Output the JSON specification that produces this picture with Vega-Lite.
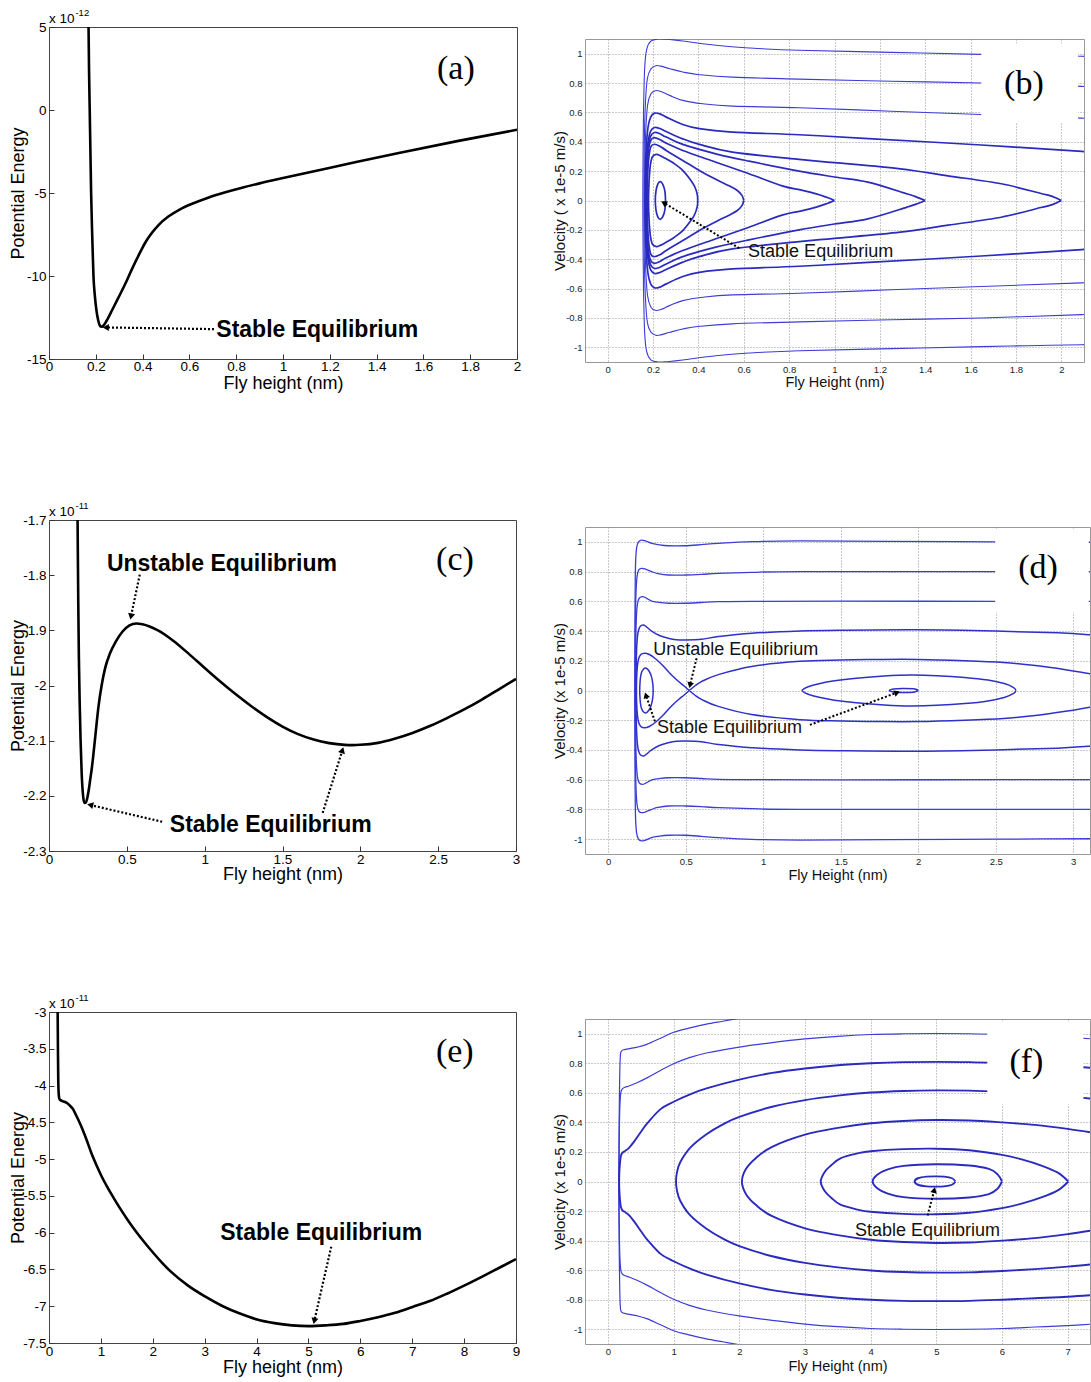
{
"$schema":"https://vega.github.io/schema/vega-lite/v6.json",
"background":"white",
"padding":{"left":8,"top":7,"right":0,"bottom":0},
"config":{"font":"Liberation Sans","view":{"stroke":null},"axis":{"titleFontWeight":"normal"}},
"datasets":{
"a":[{"x":0.166,"y":6},{"x":0.169,"y":5},{"x":0.171,"y":2.5},{"x":0.174,"y":0},{"x":0.177,"y":-2.5},{"x":0.18,"y":-5},{"x":0.185,"y":-7.7},{"x":0.19,"y":-10},{"x":0.196,"y":-11.2},{"x":0.203,"y":-12.1},{"x":0.21,"y":-12.65},{"x":0.216,"y":-12.95},{"x":0.223,"y":-13.06},{"x":0.23,"y":-13.02},{"x":0.24,"y":-12.85},{"x":0.252,"y":-12.55},{"x":0.27,"y":-12.05},{"x":0.295,"y":-11.35},{"x":0.325,"y":-10.5},{"x":0.354,"y":-9.6},{"x":0.385,"y":-8.7},{"x":0.413,"y":-7.95},{"x":0.44,"y":-7.4},{"x":0.47,"y":-6.9},{"x":0.51,"y":-6.42},{"x":0.56,"y":-5.98},{"x":0.62,"y":-5.6},{"x":0.68,"y":-5.28},{"x":0.75,"y":-4.97},{"x":0.825,"y":-4.68},{"x":0.9,"y":-4.42},{"x":1,"y":-4.1},{"x":1.25,"y":-3.33},{"x":1.5,"y":-2.57},{"x":1.75,"y":-1.86},{"x":2,"y":-1.19}],
"c":[{"x":0.183,"y":-1.68},{"x":0.185,"y":-1.75},{"x":0.188,"y":-1.85},{"x":0.192,"y":-1.95},{"x":0.197,"y":-2.03},{"x":0.203,"y":-2.1},{"x":0.21,"y":-2.16},{"x":0.219,"y":-2.2},{"x":0.228,"y":-2.213},{"x":0.237,"y":-2.212},{"x":0.246,"y":-2.204},{"x":0.255,"y":-2.19},{"x":0.265,"y":-2.17},{"x":0.275,"y":-2.15},{"x":0.284,"y":-2.128},{"x":0.3,"y":-2.085},{"x":0.317,"y":-2.04},{"x":0.338,"y":-2.0},{"x":0.361,"y":-1.968},{"x":0.39,"y":-1.943},{"x":0.428,"y":-1.921},{"x":0.47,"y":-1.903},{"x":0.517,"y":-1.891},{"x":0.56,"y":-1.8875},{"x":0.6,"y":-1.8889},{"x":0.7,"y":-1.9001},{"x":0.8,"y":-1.9193},{"x":0.9,"y":-1.9431},{"x":1,"y":-1.9682},{"x":1.1,"y":-1.9928},{"x":1.2,"y":-2.016},{"x":1.3,"y":-2.0376},{"x":1.4,"y":-2.0574},{"x":1.5,"y":-2.0745},{"x":1.6,"y":-2.0881},{"x":1.7,"y":-2.098},{"x":1.8,"y":-2.1044},{"x":1.9,"y":-2.1076},{"x":1.95,"y":-2.108},{"x":2,"y":-2.1075},{"x":2.113,"y":-2.104},{"x":2.22,"y":-2.0965},{"x":2.335,"y":-2.086},{"x":2.45,"y":-2.073},{"x":2.557,"y":-2.059},{"x":2.67,"y":-2.043},{"x":2.778,"y":-2.026},{"x":2.89,"y":-2.007},{"x":3,"y":-1.988}],
"e":[{"x":0.165,"y":-2.9},{"x":0.167,"y":-3},{"x":0.172,"y":-3.5},{"x":0.178,"y":-3.9},{"x":0.186,"y":-4.1},{"x":0.196,"y":-4.17},{"x":0.215,"y":-4.195},{"x":0.253,"y":-4.21},{"x":0.3,"y":-4.22},{"x":0.353,"y":-4.24},{"x":0.4,"y":-4.27},{"x":0.452,"y":-4.31},{"x":0.52,"y":-4.4},{"x":0.619,"y":-4.55},{"x":0.72,"y":-4.73},{"x":0.818,"y":-4.92},{"x":0.92,"y":-5.09},{"x":1.018,"y":-5.24},{"x":1.18,"y":-5.45},{"x":1.351,"y":-5.65},{"x":1.52,"y":-5.83},{"x":1.683,"y":-5.99},{"x":1.85,"y":-6.14},{"x":2.016,"y":-6.28},{"x":2.18,"y":-6.41},{"x":2.349,"y":-6.53},{"x":2.68,"y":-6.72},{"x":3.014,"y":-6.87},{"x":3.35,"y":-7},{"x":3.679,"y":-7.1},{"x":4.01,"y":-7.18},{"x":4.345,"y":-7.23},{"x":4.68,"y":-7.26},{"x":5.01,"y":-7.27},{"x":5.34,"y":-7.26},{"x":5.675,"y":-7.24},{"x":6,"y":-7.2},{"x":6.34,"y":-7.15},{"x":6.67,"y":-7.09},{"x":7.006,"y":-7.01},{"x":7.34,"y":-6.93},{"x":7.67,"y":-6.83},{"x":8,"y":-6.72},{"x":8.34,"y":-6.6},{"x":8.67,"y":-6.48},{"x":9,"y":-6.36}],
"b":[
{"c":"b1","x":2.2,"y":0.98},{"c":"b1","x":2.09,"y":0.982},{"c":"b1","x":1.85,"y":0.989},{"c":"b1","x":1.647,"y":0.995},{"c":"b1","x":1.25,"y":1.009},{"c":"b1","x":0.844,"y":1.023},{"c":"b1","x":0.623,"y":1.039},{"c":"b1","x":0.477,"y":1.057},{"c":"b1","x":0.331,"y":1.086},{"c":"b1","x":0.26,"y":1.098},{"c":"b1","x":0.222,"y":1.1},{"c":"b1","x":0.19,"y":1.085},{"c":"b1","x":0.172,"y":1.03},{"c":"b1","x":0.163,"y":0.9},{"c":"b1","x":0.158,"y":0.6},{"c":"b1","x":0.156,"y":0.3},{"c":"b1","x":0.155,"y":0},{"c":"b1","x":0.156,"y":-0.3},{"c":"b1","x":0.158,"y":-0.6},{"c":"b1","x":0.163,"y":-0.9},{"c":"b1","x":0.172,"y":-1.03},{"c":"b1","x":0.19,"y":-1.085},{"c":"b1","x":0.222,"y":-1.1},{"c":"b1","x":0.26,"y":-1.098},{"c":"b1","x":0.331,"y":-1.086},{"c":"b1","x":0.477,"y":-1.057},{"c":"b1","x":0.623,"y":-1.039},{"c":"b1","x":0.844,"y":-1.023},{"c":"b1","x":1.25,"y":-1.009},{"c":"b1","x":1.647,"y":-0.995},{"c":"b1","x":1.85,"y":-0.989},{"c":"b1","x":2.09,"y":-0.982},{"c":"b1","x":2.2,"y":-0.98},
{"c":"b2","x":2.2,"y":0.773},{"c":"b2","x":2.09,"y":0.777},{"c":"b2","x":1.647,"y":0.8},{"c":"b2","x":1.25,"y":0.812},{"c":"b2","x":0.844,"y":0.827},{"c":"b2","x":0.55,"y":0.84},{"c":"b2","x":0.404,"y":0.857},{"c":"b2","x":0.331,"y":0.875},{"c":"b2","x":0.273,"y":0.898},{"c":"b2","x":0.235,"y":0.915},{"c":"b2","x":0.212,"y":0.918},{"c":"b2","x":0.19,"y":0.895},{"c":"b2","x":0.175,"y":0.83},{"c":"b2","x":0.166,"y":0.65},{"c":"b2","x":0.161,"y":0.35},{"c":"b2","x":0.16,"y":0},{"c":"b2","x":0.161,"y":-0.35},{"c":"b2","x":0.166,"y":-0.65},{"c":"b2","x":0.175,"y":-0.83},{"c":"b2","x":0.19,"y":-0.895},{"c":"b2","x":0.212,"y":-0.918},{"c":"b2","x":0.235,"y":-0.915},{"c":"b2","x":0.273,"y":-0.898},{"c":"b2","x":0.331,"y":-0.875},{"c":"b2","x":0.404,"y":-0.857},{"c":"b2","x":0.55,"y":-0.84},{"c":"b2","x":0.844,"y":-0.827},{"c":"b2","x":1.25,"y":-0.812},{"c":"b2","x":1.647,"y":-0.8},{"c":"b2","x":2.09,"y":-0.777},{"c":"b2","x":2.2,"y":-0.773},
{"c":"b3","x":2.2,"y":0.556},{"c":"b3","x":2.09,"y":0.561},{"c":"b3","x":1.647,"y":0.586},{"c":"b3","x":1.25,"y":0.608},{"c":"b3","x":0.844,"y":0.632},{"c":"b3","x":0.55,"y":0.643},{"c":"b3","x":0.419,"y":0.659},{"c":"b3","x":0.331,"y":0.682},{"c":"b3","x":0.273,"y":0.716},{"c":"b3","x":0.235,"y":0.742},{"c":"b3","x":0.21,"y":0.748},{"c":"b3","x":0.19,"y":0.725},{"c":"b3","x":0.176,"y":0.65},{"c":"b3","x":0.168,"y":0.48},{"c":"b3","x":0.164,"y":0.25},{"c":"b3","x":0.163,"y":0},{"c":"b3","x":0.164,"y":-0.25},{"c":"b3","x":0.168,"y":-0.48},{"c":"b3","x":0.176,"y":-0.65},{"c":"b3","x":0.19,"y":-0.725},{"c":"b3","x":0.21,"y":-0.748},{"c":"b3","x":0.235,"y":-0.742},{"c":"b3","x":0.273,"y":-0.716},{"c":"b3","x":0.331,"y":-0.682},{"c":"b3","x":0.419,"y":-0.659},{"c":"b3","x":0.55,"y":-0.643},{"c":"b3","x":0.844,"y":-0.632},{"c":"b3","x":1.25,"y":-0.608},{"c":"b3","x":1.647,"y":-0.586},{"c":"b3","x":2.09,"y":-0.561},{"c":"b3","x":2.2,"y":-0.556},
{"c":"b4","x":2.2,"y":0.322},{"c":"b4","x":2.09,"y":0.334},{"c":"b4","x":1.647,"y":0.378},{"c":"b4","x":1.15,"y":0.422},{"c":"b4","x":0.844,"y":0.448},{"c":"b4","x":0.55,"y":0.466},{"c":"b4","x":0.404,"y":0.489},{"c":"b4","x":0.331,"y":0.518},{"c":"b4","x":0.258,"y":0.568},{"c":"b4","x":0.23,"y":0.59},{"c":"b4","x":0.207,"y":0.595},{"c":"b4","x":0.19,"y":0.57},{"c":"b4","x":0.178,"y":0.5},{"c":"b4","x":0.17,"y":0.36},{"c":"b4","x":0.166,"y":0.18},{"c":"b4","x":0.165,"y":0},{"c":"b4","x":0.166,"y":-0.18},{"c":"b4","x":0.17,"y":-0.36},{"c":"b4","x":0.178,"y":-0.5},{"c":"b4","x":0.19,"y":-0.57},{"c":"b4","x":0.207,"y":-0.595},{"c":"b4","x":0.23,"y":-0.59},{"c":"b4","x":0.258,"y":-0.568},{"c":"b4","x":0.331,"y":-0.518},{"c":"b4","x":0.404,"y":-0.489},{"c":"b4","x":0.55,"y":-0.466},{"c":"b4","x":0.844,"y":-0.448},{"c":"b4","x":1.15,"y":-0.422},{"c":"b4","x":1.647,"y":-0.378},{"c":"b4","x":2.09,"y":-0.334},{"c":"b4","x":2.2,"y":-0.322},
{"c":"b5","x":2,"y":0},{"c":"b5","x":1.96,"y":0.028},{"c":"b5","x":1.91,"y":0.048},{"c":"b5","x":1.735,"y":0.114},{"c":"b5","x":1.5,"y":0.168},{"c":"b5","x":1.29,"y":0.216},{"c":"b5","x":1,"y":0.258},{"c":"b5","x":0.844,"y":0.28},{"c":"b5","x":0.55,"y":0.33},{"c":"b5","x":0.404,"y":0.382},{"c":"b5","x":0.331,"y":0.42},{"c":"b5","x":0.258,"y":0.47},{"c":"b5","x":0.23,"y":0.49},{"c":"b5","x":0.207,"y":0.497},{"c":"b5","x":0.19,"y":0.475},{"c":"b5","x":0.179,"y":0.41},{"c":"b5","x":0.172,"y":0.3},{"c":"b5","x":0.168,"y":0.15},{"c":"b5","x":0.167,"y":0},{"c":"b5","x":0.168,"y":-0.15},{"c":"b5","x":0.172,"y":-0.3},{"c":"b5","x":0.179,"y":-0.41},{"c":"b5","x":0.19,"y":-0.475},{"c":"b5","x":0.207,"y":-0.497},{"c":"b5","x":0.23,"y":-0.49},{"c":"b5","x":0.258,"y":-0.47},{"c":"b5","x":0.331,"y":-0.42},{"c":"b5","x":0.404,"y":-0.382},{"c":"b5","x":0.55,"y":-0.33},{"c":"b5","x":0.844,"y":-0.28},{"c":"b5","x":1,"y":-0.258},{"c":"b5","x":1.29,"y":-0.216},{"c":"b5","x":1.5,"y":-0.168},{"c":"b5","x":1.735,"y":-0.114},{"c":"b5","x":1.91,"y":-0.048},{"c":"b5","x":1.96,"y":-0.028},{"c":"b5","x":2,"y":0},
{"c":"b6","x":1.4,"y":0},{"c":"b6","x":1.36,"y":0.025},{"c":"b6","x":1.32,"y":0.045},{"c":"b6","x":1.147,"y":0.125},{"c":"b6","x":1,"y":0.16},{"c":"b6","x":0.844,"y":0.2},{"c":"b6","x":0.623,"y":0.268},{"c":"b6","x":0.477,"y":0.318},{"c":"b6","x":0.331,"y":0.382},{"c":"b6","x":0.258,"y":0.432},{"c":"b6","x":0.23,"y":0.455},{"c":"b6","x":0.207,"y":0.463},{"c":"b6","x":0.19,"y":0.44},{"c":"b6","x":0.18,"y":0.38},{"c":"b6","x":0.173,"y":0.27},{"c":"b6","x":0.17,"y":0.13},{"c":"b6","x":0.169,"y":0},{"c":"b6","x":0.17,"y":-0.13},{"c":"b6","x":0.173,"y":-0.27},{"c":"b6","x":0.18,"y":-0.38},{"c":"b6","x":0.19,"y":-0.44},{"c":"b6","x":0.207,"y":-0.463},{"c":"b6","x":0.23,"y":-0.455},{"c":"b6","x":0.258,"y":-0.432},{"c":"b6","x":0.331,"y":-0.382},{"c":"b6","x":0.477,"y":-0.318},{"c":"b6","x":0.623,"y":-0.268},{"c":"b6","x":0.844,"y":-0.2},{"c":"b6","x":1,"y":-0.16},{"c":"b6","x":1.147,"y":-0.125},{"c":"b6","x":1.32,"y":-0.045},{"c":"b6","x":1.36,"y":-0.025},{"c":"b6","x":1.4,"y":0},
{"c":"b7","x":1,"y":0},{"c":"b7","x":0.965,"y":0.022},{"c":"b7","x":0.92,"y":0.045},{"c":"b7","x":0.85,"y":0.072},{"c":"b7","x":0.769,"y":0.1},{"c":"b7","x":0.623,"y":0.182},{"c":"b7","x":0.477,"y":0.261},{"c":"b7","x":0.331,"y":0.341},{"c":"b7","x":0.258,"y":0.39},{"c":"b7","x":0.23,"y":0.415},{"c":"b7","x":0.205,"y":0.428},{"c":"b7","x":0.19,"y":0.41},{"c":"b7","x":0.18,"y":0.35},{"c":"b7","x":0.175,"y":0.25},{"c":"b7","x":0.172,"y":0.12},{"c":"b7","x":0.171,"y":0},{"c":"b7","x":0.172,"y":-0.12},{"c":"b7","x":0.175,"y":-0.25},{"c":"b7","x":0.18,"y":-0.35},{"c":"b7","x":0.19,"y":-0.41},{"c":"b7","x":0.205,"y":-0.428},{"c":"b7","x":0.23,"y":-0.415},{"c":"b7","x":0.258,"y":-0.39},{"c":"b7","x":0.331,"y":-0.341},{"c":"b7","x":0.477,"y":-0.261},{"c":"b7","x":0.623,"y":-0.182},{"c":"b7","x":0.769,"y":-0.1},{"c":"b7","x":0.85,"y":-0.072},{"c":"b7","x":0.92,"y":-0.045},{"c":"b7","x":0.965,"y":-0.022},{"c":"b7","x":1,"y":0},
{"c":"b8","x":0.6,"y":0},{"c":"b8","x":0.592,"y":0.035},{"c":"b8","x":0.57,"y":0.07},{"c":"b8","x":0.535,"y":0.1},{"c":"b8","x":0.47,"y":0.15},{"c":"b8","x":0.404,"y":0.205},{"c":"b8","x":0.331,"y":0.273},{"c":"b8","x":0.258,"y":0.341},{"c":"b8","x":0.23,"y":0.37},{"c":"b8","x":0.205,"y":0.383},{"c":"b8","x":0.19,"y":0.365},{"c":"b8","x":0.182,"y":0.3},{"c":"b8","x":0.177,"y":0.2},{"c":"b8","x":0.175,"y":0.1},{"c":"b8","x":0.174,"y":0},{"c":"b8","x":0.175,"y":-0.1},{"c":"b8","x":0.177,"y":-0.2},{"c":"b8","x":0.182,"y":-0.3},{"c":"b8","x":0.19,"y":-0.365},{"c":"b8","x":0.205,"y":-0.383},{"c":"b8","x":0.23,"y":-0.37},{"c":"b8","x":0.258,"y":-0.341},{"c":"b8","x":0.331,"y":-0.273},{"c":"b8","x":0.404,"y":-0.205},{"c":"b8","x":0.47,"y":-0.15},{"c":"b8","x":0.535,"y":-0.1},{"c":"b8","x":0.57,"y":-0.07},{"c":"b8","x":0.592,"y":-0.035},{"c":"b8","x":0.6,"y":0},
{"c":"b9","x":0.397,"y":0},{"c":"b9","x":0.395,"y":0.04},{"c":"b9","x":0.385,"y":0.09},{"c":"b9","x":0.37,"y":0.13},{"c":"b9","x":0.331,"y":0.205},{"c":"b9","x":0.29,"y":0.255},{"c":"b9","x":0.258,"y":0.284},{"c":"b9","x":0.23,"y":0.307},{"c":"b9","x":0.215,"y":0.314},{"c":"b9","x":0.198,"y":0.3},{"c":"b9","x":0.189,"y":0.25},{"c":"b9","x":0.184,"y":0.17},{"c":"b9","x":0.181,"y":0.08},{"c":"b9","x":0.18,"y":0},{"c":"b9","x":0.181,"y":-0.08},{"c":"b9","x":0.184,"y":-0.17},{"c":"b9","x":0.189,"y":-0.25},{"c":"b9","x":0.198,"y":-0.3},{"c":"b9","x":0.215,"y":-0.314},{"c":"b9","x":0.23,"y":-0.307},{"c":"b9","x":0.258,"y":-0.284},{"c":"b9","x":0.29,"y":-0.255},{"c":"b9","x":0.331,"y":-0.205},{"c":"b9","x":0.37,"y":-0.13},{"c":"b9","x":0.385,"y":-0.09},{"c":"b9","x":0.395,"y":-0.04},{"c":"b9","x":0.397,"y":0},
{"c":"b10","x":0.255,"y":0},{"c":"b10","x":0.252,"y":0.065},{"c":"b10","x":0.243,"y":0.11},{"c":"b10","x":0.232,"y":0.128},{"c":"b10","x":0.221,"y":0.112},{"c":"b10","x":0.213,"y":0.065},{"c":"b10","x":0.21,"y":0},{"c":"b10","x":0.213,"y":-0.065},{"c":"b10","x":0.221,"y":-0.112},{"c":"b10","x":0.232,"y":-0.128},{"c":"b10","x":0.243,"y":-0.11},{"c":"b10","x":0.252,"y":-0.065},{"c":"b10","x":0.255,"y":0}
],
"d":[
{"c":"d1","x":3.2,"y":0.997},{"c":"d1","x":2.5,"y":1},{"c":"d1","x":1.8,"y":1.003},{"c":"d1","x":1.237,"y":1.006},{"c":"d1","x":0.925,"y":1.001},{"c":"d1","x":0.71,"y":0.99},{"c":"d1","x":0.6,"y":0.981},{"c":"d1","x":0.495,"y":0.974},{"c":"d1","x":0.387,"y":0.974},{"c":"d1","x":0.32,"y":0.982},{"c":"d1","x":0.28,"y":0.99},{"c":"d1","x":0.24,"y":1.006},{"c":"d1","x":0.215,"y":1.012},{"c":"d1","x":0.195,"y":1},{"c":"d1","x":0.183,"y":0.96},{"c":"d1","x":0.176,"y":0.85},{"c":"d1","x":0.173,"y":0.6},{"c":"d1","x":0.172,"y":0.3},{"c":"d1","x":0.171,"y":0},{"c":"d1","x":0.172,"y":-0.3},{"c":"d1","x":0.173,"y":-0.6},{"c":"d1","x":0.176,"y":-0.85},{"c":"d1","x":0.183,"y":-0.96},{"c":"d1","x":0.195,"y":-1},{"c":"d1","x":0.215,"y":-1.012},{"c":"d1","x":0.24,"y":-1.006},{"c":"d1","x":0.28,"y":-0.99},{"c":"d1","x":0.32,"y":-0.982},{"c":"d1","x":0.387,"y":-0.974},{"c":"d1","x":0.495,"y":-0.974},{"c":"d1","x":0.6,"y":-0.981},{"c":"d1","x":0.71,"y":-0.99},{"c":"d1","x":0.925,"y":-1.001},{"c":"d1","x":1.237,"y":-1.006},{"c":"d1","x":1.8,"y":-1.003},{"c":"d1","x":2.5,"y":-1},{"c":"d1","x":3.2,"y":-0.997},
{"c":"d2","x":3.2,"y":0.8},{"c":"d2","x":2.5,"y":0.8},{"c":"d2","x":1.237,"y":0.8},{"c":"d2","x":0.925,"y":0.795},{"c":"d2","x":0.71,"y":0.788},{"c":"d2","x":0.6,"y":0.781},{"c":"d2","x":0.495,"y":0.777},{"c":"d2","x":0.387,"y":0.777},{"c":"d2","x":0.32,"y":0.787},{"c":"d2","x":0.28,"y":0.8},{"c":"d2","x":0.24,"y":0.817},{"c":"d2","x":0.215,"y":0.822},{"c":"d2","x":0.196,"y":0.81},{"c":"d2","x":0.185,"y":0.76},{"c":"d2","x":0.178,"y":0.62},{"c":"d2","x":0.175,"y":0.4},{"c":"d2","x":0.174,"y":0.2},{"c":"d2","x":0.173,"y":0},{"c":"d2","x":0.174,"y":-0.2},{"c":"d2","x":0.175,"y":-0.4},{"c":"d2","x":0.178,"y":-0.62},{"c":"d2","x":0.185,"y":-0.76},{"c":"d2","x":0.196,"y":-0.81},{"c":"d2","x":0.215,"y":-0.822},{"c":"d2","x":0.24,"y":-0.817},{"c":"d2","x":0.28,"y":-0.8},{"c":"d2","x":0.32,"y":-0.787},{"c":"d2","x":0.387,"y":-0.777},{"c":"d2","x":0.495,"y":-0.777},{"c":"d2","x":0.6,"y":-0.781},{"c":"d2","x":0.71,"y":-0.788},{"c":"d2","x":0.925,"y":-0.795},{"c":"d2","x":1.237,"y":-0.8},{"c":"d2","x":2.5,"y":-0.8},{"c":"d2","x":3.2,"y":-0.8},
{"c":"d3","x":3.2,"y":0.6},{"c":"d3","x":2.5,"y":0.6},{"c":"d3","x":1.5,"y":0.601},{"c":"d3","x":0.925,"y":0.6},{"c":"d3","x":0.71,"y":0.598},{"c":"d3","x":0.6,"y":0.592},{"c":"d3","x":0.495,"y":0.587},{"c":"d3","x":0.387,"y":0.587},{"c":"d3","x":0.32,"y":0.594},{"c":"d3","x":0.28,"y":0.602},{"c":"d3","x":0.245,"y":0.622},{"c":"d3","x":0.219,"y":0.632},{"c":"d3","x":0.198,"y":0.618},{"c":"d3","x":0.187,"y":0.57},{"c":"d3","x":0.18,"y":0.45},{"c":"d3","x":0.177,"y":0.25},{"c":"d3","x":0.176,"y":0},{"c":"d3","x":0.177,"y":-0.25},{"c":"d3","x":0.18,"y":-0.45},{"c":"d3","x":0.187,"y":-0.57},{"c":"d3","x":0.198,"y":-0.618},{"c":"d3","x":0.219,"y":-0.632},{"c":"d3","x":0.245,"y":-0.622},{"c":"d3","x":0.28,"y":-0.602},{"c":"d3","x":0.32,"y":-0.594},{"c":"d3","x":0.387,"y":-0.587},{"c":"d3","x":0.495,"y":-0.587},{"c":"d3","x":0.6,"y":-0.592},{"c":"d3","x":0.71,"y":-0.598},{"c":"d3","x":0.925,"y":-0.6},{"c":"d3","x":1.5,"y":-0.601},{"c":"d3","x":2.5,"y":-0.6},{"c":"d3","x":3.2,"y":-0.6},
{"c":"d4","x":3.2,"y":0.365},{"c":"d4","x":3.12,"y":0.374},{"c":"d4","x":2.9,"y":0.388},{"c":"d4","x":2.5,"y":0.4},{"c":"d4","x":2,"y":0.408},{"c":"d4","x":1.5,"y":0.405},{"c":"d4","x":1.237,"y":0.4},{"c":"d4","x":0.925,"y":0.385},{"c":"d4","x":0.71,"y":0.363},{"c":"d4","x":0.602,"y":0.345},{"c":"d4","x":0.495,"y":0.34},{"c":"d4","x":0.44,"y":0.342},{"c":"d4","x":0.387,"y":0.352},{"c":"d4","x":0.33,"y":0.37},{"c":"d4","x":0.28,"y":0.4},{"c":"d4","x":0.245,"y":0.43},{"c":"d4","x":0.226,"y":0.441},{"c":"d4","x":0.205,"y":0.43},{"c":"d4","x":0.192,"y":0.39},{"c":"d4","x":0.184,"y":0.3},{"c":"d4","x":0.18,"y":0.15},{"c":"d4","x":0.179,"y":0},{"c":"d4","x":0.18,"y":-0.15},{"c":"d4","x":0.184,"y":-0.3},{"c":"d4","x":0.192,"y":-0.39},{"c":"d4","x":0.205,"y":-0.43},{"c":"d4","x":0.226,"y":-0.441},{"c":"d4","x":0.245,"y":-0.43},{"c":"d4","x":0.28,"y":-0.4},{"c":"d4","x":0.33,"y":-0.37},{"c":"d4","x":0.387,"y":-0.352},{"c":"d4","x":0.44,"y":-0.342},{"c":"d4","x":0.495,"y":-0.34},{"c":"d4","x":0.602,"y":-0.345},{"c":"d4","x":0.71,"y":-0.363},{"c":"d4","x":0.925,"y":-0.385},{"c":"d4","x":1.237,"y":-0.4},{"c":"d4","x":1.5,"y":-0.405},{"c":"d4","x":2,"y":-0.408},{"c":"d4","x":2.5,"y":-0.4},{"c":"d4","x":2.9,"y":-0.388},{"c":"d4","x":3.12,"y":-0.374},{"c":"d4","x":3.2,"y":-0.365},
{"c":"d5L","x":0.523,"y":0},{"c":"d5L","x":0.49,"y":0.03},{"c":"d5L","x":0.452,"y":0.062},{"c":"d5L","x":0.42,"y":0.092},{"c":"d5L","x":0.387,"y":0.128},{"c":"d5L","x":0.345,"y":0.175},{"c":"d5L","x":0.301,"y":0.217},{"c":"d5L","x":0.265,"y":0.242},{"c":"d5L","x":0.235,"y":0.251},{"c":"d5L","x":0.21,"y":0.242},{"c":"d5L","x":0.195,"y":0.21},{"c":"d5L","x":0.187,"y":0.15},{"c":"d5L","x":0.183,"y":0.075},{"c":"d5L","x":0.182,"y":0},{"c":"d5L","x":0.183,"y":-0.075},{"c":"d5L","x":0.187,"y":-0.15},{"c":"d5L","x":0.195,"y":-0.21},{"c":"d5L","x":0.21,"y":-0.242},{"c":"d5L","x":0.235,"y":-0.251},{"c":"d5L","x":0.265,"y":-0.242},{"c":"d5L","x":0.301,"y":-0.217},{"c":"d5L","x":0.345,"y":-0.175},{"c":"d5L","x":0.387,"y":-0.128},{"c":"d5L","x":0.42,"y":-0.092},{"c":"d5L","x":0.452,"y":-0.062},{"c":"d5L","x":0.49,"y":-0.03},{"c":"d5L","x":0.523,"y":0},
{"c":"d5R","x":0.523,"y":0},{"c":"d5R","x":0.56,"y":0.032},{"c":"d5R","x":0.602,"y":0.06},{"c":"d5R","x":0.71,"y":0.107},{"c":"d5R","x":0.925,"y":0.162},{"c":"d5R","x":1.237,"y":0.196},{"c":"d5R","x":1.5,"y":0.205},{"c":"d5R","x":1.75,"y":0.209},{"c":"d5R","x":2,"y":0.209},{"c":"d5R","x":2.3,"y":0.2},{"c":"d5R","x":2.55,"y":0.188},{"c":"d5R","x":2.755,"y":0.168},{"c":"d5R","x":2.95,"y":0.14},{"c":"d5R","x":3.12,"y":0.11},{"c":"d5R","x":3.25,"y":0.075},{"c":"d5R","x":3.33,"y":0.035},{"c":"d5R","x":3.36,"y":0},{"c":"d5R","x":3.33,"y":-0.035},{"c":"d5R","x":3.25,"y":-0.075},{"c":"d5R","x":3.12,"y":-0.11},{"c":"d5R","x":2.95,"y":-0.14},{"c":"d5R","x":2.755,"y":-0.168},{"c":"d5R","x":2.55,"y":-0.188},{"c":"d5R","x":2.3,"y":-0.2},{"c":"d5R","x":2,"y":-0.209},{"c":"d5R","x":1.75,"y":-0.209},{"c":"d5R","x":1.5,"y":-0.205},{"c":"d5R","x":1.237,"y":-0.196},{"c":"d5R","x":0.925,"y":-0.162},{"c":"d5R","x":0.71,"y":-0.107},{"c":"d5R","x":0.602,"y":-0.06},{"c":"d5R","x":0.56,"y":-0.032},{"c":"d5R","x":0.523,"y":0},
{"c":"d6","x":0.29,"y":0},{"c":"d6","x":0.287,"y":0.05},{"c":"d6","x":0.277,"y":0.1},{"c":"d6","x":0.262,"y":0.133},{"c":"d6","x":0.245,"y":0.15},{"c":"d6","x":0.228,"y":0.145},{"c":"d6","x":0.214,"y":0.12},{"c":"d6","x":0.207,"y":0.08},{"c":"d6","x":0.204,"y":0.035},{"c":"d6","x":0.203,"y":0},{"c":"d6","x":0.204,"y":-0.035},{"c":"d6","x":0.207,"y":-0.08},{"c":"d6","x":0.214,"y":-0.12},{"c":"d6","x":0.228,"y":-0.145},{"c":"d6","x":0.245,"y":-0.15},{"c":"d6","x":0.262,"y":-0.133},{"c":"d6","x":0.277,"y":-0.1},{"c":"d6","x":0.287,"y":-0.05},{"c":"d6","x":0.29,"y":0},
{"c":"d7","x":2.63,"y":0},{"c":"d7","x":2.615,"y":0.02},{"c":"d7","x":2.56,"y":0.045},{"c":"d7","x":2.45,"y":0.07},{"c":"d7","x":2.3,"y":0.088},{"c":"d7","x":2.12,"y":0.1},{"c":"d7","x":1.95,"y":0.104},{"c":"d7","x":1.78,"y":0.097},{"c":"d7","x":1.6,"y":0.082},{"c":"d7","x":1.46,"y":0.065},{"c":"d7","x":1.36,"y":0.046},{"c":"d7","x":1.29,"y":0.025},{"c":"d7","x":1.251,"y":0},{"c":"d7","x":1.29,"y":-0.025},{"c":"d7","x":1.36,"y":-0.046},{"c":"d7","x":1.46,"y":-0.065},{"c":"d7","x":1.6,"y":-0.082},{"c":"d7","x":1.78,"y":-0.097},{"c":"d7","x":1.95,"y":-0.104},{"c":"d7","x":2.12,"y":-0.1},{"c":"d7","x":2.3,"y":-0.088},{"c":"d7","x":2.45,"y":-0.07},{"c":"d7","x":2.56,"y":-0.045},{"c":"d7","x":2.615,"y":-0.02},{"c":"d7","x":2.63,"y":0},
{"c":"d8","x":2,"y":0},{"c":"d8","x":1.97,"y":0.011},{"c":"d8","x":1.9,"y":0.014},{"c":"d8","x":1.84,"y":0.01},{"c":"d8","x":1.814,"y":0},{"c":"d8","x":1.84,"y":-0.01},{"c":"d8","x":1.9,"y":-0.014},{"c":"d8","x":1.97,"y":-0.011},{"c":"d8","x":2,"y":0}
],
"f":[
{"c":"fA","x":2.2,"y":1.12},{"c":"fA","x":2,"y":1.105},{"c":"fA","x":1.75,"y":1.085},{"c":"fA","x":1.5,"y":1.065},{"c":"fA","x":1.25,"y":1.04},{"c":"fA","x":1,"y":1.01},{"c":"fA","x":0.8,"y":0.97},{"c":"fA","x":0.6,"y":0.93},{"c":"fA","x":0.45,"y":0.91},{"c":"fA","x":0.33,"y":0.9},{"c":"fA","x":0.25,"y":0.893},{"c":"fA","x":0.21,"y":0.885},{"c":"fA","x":0.19,"y":0.86},{"c":"fA","x":0.18,"y":0.75},{"c":"fA","x":0.172,"y":0.5},{"c":"fA","x":0.167,"y":0.25},{"c":"fA","x":0.165,"y":0},{"c":"fA","x":0.167,"y":-0.25},{"c":"fA","x":0.172,"y":-0.5},{"c":"fA","x":0.18,"y":-0.75},{"c":"fA","x":0.19,"y":-0.86},{"c":"fA","x":0.21,"y":-0.885},{"c":"fA","x":0.25,"y":-0.893},{"c":"fA","x":0.33,"y":-0.9},{"c":"fA","x":0.45,"y":-0.91},{"c":"fA","x":0.6,"y":-0.93},{"c":"fA","x":0.8,"y":-0.97},{"c":"fA","x":1,"y":-1.01},{"c":"fA","x":1.25,"y":-1.04},{"c":"fA","x":1.5,"y":-1.065},{"c":"fA","x":1.75,"y":-1.085},{"c":"fA","x":2,"y":-1.105},{"c":"fA","x":2.2,"y":-1.12},
{"c":"fB","x":7.5,"y":0.962},{"c":"fB","x":7,"y":0.975},{"c":"fB","x":6.5,"y":0.985},{"c":"fB","x":6,"y":0.995},{"c":"fB","x":5.5,"y":1},{"c":"fB","x":5,"y":1.002},{"c":"fB","x":4.5,"y":1},{"c":"fB","x":4,"y":0.995},{"c":"fB","x":3.5,"y":0.983},{"c":"fB","x":3,"y":0.965},{"c":"fB","x":2.5,"y":0.94},{"c":"fB","x":2,"y":0.91},{"c":"fB","x":1.5,"y":0.87},{"c":"fB","x":1.25,"y":0.84},{"c":"fB","x":1,"y":0.797},{"c":"fB","x":0.8,"y":0.752},{"c":"fB","x":0.6,"y":0.703},{"c":"fB","x":0.45,"y":0.67},{"c":"fB","x":0.33,"y":0.648},{"c":"fB","x":0.26,"y":0.638},{"c":"fB","x":0.215,"y":0.625},{"c":"fB","x":0.195,"y":0.6},{"c":"fB","x":0.182,"y":0.52},{"c":"fB","x":0.175,"y":0.4},{"c":"fB","x":0.17,"y":0.2},{"c":"fB","x":0.168,"y":0},{"c":"fB","x":0.17,"y":-0.2},{"c":"fB","x":0.175,"y":-0.4},{"c":"fB","x":0.182,"y":-0.52},{"c":"fB","x":0.195,"y":-0.6},{"c":"fB","x":0.215,"y":-0.625},{"c":"fB","x":0.26,"y":-0.638},{"c":"fB","x":0.33,"y":-0.648},{"c":"fB","x":0.45,"y":-0.67},{"c":"fB","x":0.6,"y":-0.703},{"c":"fB","x":0.8,"y":-0.752},{"c":"fB","x":1,"y":-0.797},{"c":"fB","x":1.25,"y":-0.84},{"c":"fB","x":1.5,"y":-0.87},{"c":"fB","x":2,"y":-0.91},{"c":"fB","x":2.5,"y":-0.94},{"c":"fB","x":3,"y":-0.965},{"c":"fB","x":3.5,"y":-0.983},{"c":"fB","x":4,"y":-0.995},{"c":"fB","x":4.5,"y":-1},{"c":"fB","x":5,"y":-1.002},{"c":"fB","x":5.5,"y":-1},{"c":"fB","x":6,"y":-0.995},{"c":"fB","x":6.5,"y":-0.985},{"c":"fB","x":7,"y":-0.975},{"c":"fB","x":7.5,"y":-0.962},
{"c":"fC","x":7.5,"y":0.765},{"c":"fC","x":7,"y":0.78},{"c":"fC","x":6.5,"y":0.79},{"c":"fC","x":6,"y":0.8},{"c":"fC","x":5.5,"y":0.808},{"c":"fC","x":5,"y":0.81},{"c":"fC","x":4.5,"y":0.808},{"c":"fC","x":4,"y":0.8},{"c":"fC","x":3.5,"y":0.787},{"c":"fC","x":3,"y":0.765},{"c":"fC","x":2.5,"y":0.735},{"c":"fC","x":2,"y":0.69},{"c":"fC","x":1.5,"y":0.63},{"c":"fC","x":1.25,"y":0.59},{"c":"fC","x":1,"y":0.54},{"c":"fC","x":0.8,"y":0.49},{"c":"fC","x":0.6,"y":0.395},{"c":"fC","x":0.5,"y":0.335},{"c":"fC","x":0.4,"y":0.272},{"c":"fC","x":0.32,"y":0.228},{"c":"fC","x":0.26,"y":0.207},{"c":"fC","x":0.22,"y":0.195},{"c":"fC","x":0.195,"y":0.17},{"c":"fC","x":0.18,"y":0.11},{"c":"fC","x":0.172,"y":0.05},{"c":"fC","x":0.17,"y":0},{"c":"fC","x":0.172,"y":-0.05},{"c":"fC","x":0.18,"y":-0.11},{"c":"fC","x":0.195,"y":-0.17},{"c":"fC","x":0.22,"y":-0.195},{"c":"fC","x":0.26,"y":-0.207},{"c":"fC","x":0.32,"y":-0.228},{"c":"fC","x":0.4,"y":-0.272},{"c":"fC","x":0.5,"y":-0.335},{"c":"fC","x":0.6,"y":-0.395},{"c":"fC","x":0.8,"y":-0.49},{"c":"fC","x":1,"y":-0.54},{"c":"fC","x":1.25,"y":-0.59},{"c":"fC","x":1.5,"y":-0.63},{"c":"fC","x":2,"y":-0.69},{"c":"fC","x":2.5,"y":-0.735},{"c":"fC","x":3,"y":-0.765},{"c":"fC","x":3.5,"y":-0.787},{"c":"fC","x":4,"y":-0.8},{"c":"fC","x":4.5,"y":-0.808},{"c":"fC","x":5,"y":-0.81},{"c":"fC","x":5.5,"y":-0.808},{"c":"fC","x":6,"y":-0.8},{"c":"fC","x":6.5,"y":-0.79},{"c":"fC","x":7,"y":-0.78},{"c":"fC","x":7.5,"y":-0.765},
{"c":"fD","x":7.5,"y":0.554},{"c":"fD","x":7,"y":0.576},{"c":"fD","x":6.5,"y":0.593},{"c":"fD","x":6,"y":0.606},{"c":"fD","x":5.5,"y":0.615},{"c":"fD","x":5,"y":0.617},{"c":"fD","x":4.5,"y":0.613},{"c":"fD","x":4,"y":0.602},{"c":"fD","x":3.5,"y":0.581},{"c":"fD","x":3,"y":0.551},{"c":"fD","x":2.5,"y":0.506},{"c":"fD","x":2,"y":0.437},{"c":"fD","x":1.75,"y":0.387},{"c":"fD","x":1.5,"y":0.32},{"c":"fD","x":1.25,"y":0.228},{"c":"fD","x":1.1,"y":0.13},{"c":"fD","x":1.05,"y":0.06},{"c":"fD","x":1.036,"y":0},{"c":"fD","x":1.05,"y":-0.06},{"c":"fD","x":1.1,"y":-0.13},{"c":"fD","x":1.25,"y":-0.228},{"c":"fD","x":1.5,"y":-0.32},{"c":"fD","x":1.75,"y":-0.387},{"c":"fD","x":2,"y":-0.437},{"c":"fD","x":2.5,"y":-0.506},{"c":"fD","x":3,"y":-0.551},{"c":"fD","x":3.5,"y":-0.581},{"c":"fD","x":4,"y":-0.602},{"c":"fD","x":4.5,"y":-0.613},{"c":"fD","x":5,"y":-0.617},{"c":"fD","x":5.5,"y":-0.615},{"c":"fD","x":6,"y":-0.606},{"c":"fD","x":6.5,"y":-0.593},{"c":"fD","x":7,"y":-0.576},{"c":"fD","x":7.5,"y":-0.554},
{"c":"fE","x":7.5,"y":0.322},{"c":"fE","x":7,"y":0.356},{"c":"fE","x":6.5,"y":0.383},{"c":"fE","x":6,"y":0.4},{"c":"fE","x":5.5,"y":0.413},{"c":"fE","x":5,"y":0.416},{"c":"fE","x":4.5,"y":0.41},{"c":"fE","x":4,"y":0.394},{"c":"fE","x":3.5,"y":0.363},{"c":"fE","x":3,"y":0.317},{"c":"fE","x":2.5,"y":0.235},{"c":"fE","x":2.25,"y":0.158},{"c":"fE","x":2.1,"y":0.084},{"c":"fE","x":2.04,"y":0},{"c":"fE","x":2.1,"y":-0.084},{"c":"fE","x":2.25,"y":-0.158},{"c":"fE","x":2.5,"y":-0.235},{"c":"fE","x":3,"y":-0.317},{"c":"fE","x":3.5,"y":-0.363},{"c":"fE","x":4,"y":-0.394},{"c":"fE","x":4.5,"y":-0.41},{"c":"fE","x":5,"y":-0.416},{"c":"fE","x":5.5,"y":-0.413},{"c":"fE","x":6,"y":-0.4},{"c":"fE","x":6.5,"y":-0.383},{"c":"fE","x":7,"y":-0.356},{"c":"fE","x":7.5,"y":-0.322},
{"c":"fF","x":7.01,"y":0},{"c":"fF","x":6.85,"y":0.06},{"c":"fF","x":6.6,"y":0.108},{"c":"fF","x":6.3,"y":0.15},{"c":"fF","x":6,"y":0.18},{"c":"fF","x":5.5,"y":0.212},{"c":"fF","x":5,"y":0.222},{"c":"fF","x":4.5,"y":0.219},{"c":"fF","x":4,"y":0.205},{"c":"fF","x":3.8,"y":0.19},{"c":"fF","x":3.54,"y":0.157},{"c":"fF","x":3.4,"y":0.11},{"c":"fF","x":3.3,"y":0.065},{"c":"fF","x":3.24,"y":0},{"c":"fF","x":3.3,"y":-0.065},{"c":"fF","x":3.4,"y":-0.11},{"c":"fF","x":3.54,"y":-0.157},{"c":"fF","x":3.8,"y":-0.19},{"c":"fF","x":4,"y":-0.205},{"c":"fF","x":4.5,"y":-0.219},{"c":"fF","x":5,"y":-0.222},{"c":"fF","x":5.5,"y":-0.212},{"c":"fF","x":6,"y":-0.18},{"c":"fF","x":6.3,"y":-0.15},{"c":"fF","x":6.6,"y":-0.108},{"c":"fF","x":6.85,"y":-0.06},{"c":"fF","x":7.01,"y":0},
{"c":"fG","x":6,"y":0},{"c":"fG","x":5.93,"y":0.05},{"c":"fG","x":5.8,"y":0.085},{"c":"fG","x":5.5,"y":0.108},{"c":"fG","x":5,"y":0.117},{"c":"fG","x":4.5,"y":0.106},{"c":"fG","x":4.25,"y":0.08},{"c":"fG","x":4.1,"y":0.045},{"c":"fG","x":4.03,"y":0},{"c":"fG","x":4.1,"y":-0.045},{"c":"fG","x":4.25,"y":-0.08},{"c":"fG","x":4.5,"y":-0.106},{"c":"fG","x":5,"y":-0.117},{"c":"fG","x":5.5,"y":-0.108},{"c":"fG","x":5.8,"y":-0.085},{"c":"fG","x":5.93,"y":-0.05},{"c":"fG","x":6,"y":0},
{"c":"fH","x":5.29,"y":0},{"c":"fH","x":5.24,"y":0.022},{"c":"fH","x":5.12,"y":0.033},{"c":"fH","x":4.98,"y":0.035},{"c":"fH","x":4.85,"y":0.033},{"c":"fH","x":4.72,"y":0.022},{"c":"fH","x":4.67,"y":0},{"c":"fH","x":4.72,"y":-0.022},{"c":"fH","x":4.85,"y":-0.033},{"c":"fH","x":4.98,"y":-0.035},{"c":"fH","x":5.12,"y":-0.033},{"c":"fH","x":5.24,"y":-0.022},{"c":"fH","x":5.29,"y":0}
],
"txt":[{"p":"a","x":0.715,"y":-13.23,"t":"Stable Equilibrium"},{"p":"c","x":0.372,"y":-1.779,"t":"Unstable Equilibrium"},{"p":"c","x":0.776,"y":-2.253,"t":"Stable Equilibrium"},{"p":"e","x":3.3,"y":-6.004,"t":"Stable Equilibrium"},{"p":"b","x":0.619,"y":-0.352,"t":"Stable Equilibrium"},{"p":"d","x":0.29,"y":0.27,"t":"Unstable Equilibrium"},{"p":"d","x":0.314,"y":-0.252,"t":"Stable Equilibrium"},{"p":"f","x":3.76,"y":-0.333,"t":"Stable Equilibrium"}],
"lab":[{"p":"a","x":1.739,"y":2.47,"t":"(a)"},{"p":"c","x":2.608,"y":-1.7725,"t":"(c)"},{"p":"e","x":7.82,"y":-3.544,"t":"(e)"},{"p":"b","x":1.835,"y":0.795,"t":"(b)"},{"p":"d","x":2.773,"y":0.822,"t":"(d)"},{"p":"f","x":6.372,"y":0.807,"t":"(f)"}],
"exp":[{"p":"a","x":0,"y":5.24,"t":"x 10"},{"p":"c","x":0,"y":-1.6927,"t":"x 10"},{"p":"e","x":0,"y":-2.946,"t":"x 10"}],
"sup":[{"p":"a","x":0.113,"y":5.66,"t":"-12"},{"p":"c","x":0.17,"y":-1.68,"t":"-11"},{"p":"e","x":0.51,"y":-2.85,"t":"-11"}],
"arr":[{"p":"a","x":0.705,"y":-13.2,"x2":0.247,"y2":-13.1},{"p":"c","x":0.583,"y":-1.799,"x2":0.528,"y2":-1.873},{"p":"c","x":0.727,"y":-2.247,"x2":0.271,"y2":-2.217},{"p":"c","x":1.758,"y":-2.231,"x2":1.883,"y2":-2.119},{"p":"e","x":5.44,"y":-6.19,"x2":5.117,"y2":-7.187},{"p":"b","x":0.58,"y":-0.325,"x2":0.251,"y2":-0.019},{"p":"d","x":0.57,"y":0.217,"x2":0.529,"y2":0.042},{"p":"d","x":0.301,"y":-0.208,"x2":0.245,"y2":-0.038},{"p":"d","x":1.301,"y":-0.231,"x2":1.858,"y2":-0.016},{"p":"f","x":4.867,"y":-0.23,"x2":4.965,"y2":-0.064}],
"head":[{"k":"a","x":0.247,"y":-13.1},{"k":"c1","x":0.528,"y":-1.873},{"k":"c2","x":0.271,"y":-2.217},{"k":"c3","x":1.883,"y":-2.119},{"k":"e","x":5.117,"y":-7.187},{"k":"b","x":0.251,"y":-0.019},{"k":"d1","x":0.529,"y":0.042},{"k":"d2","x":0.245,"y":-0.038},{"k":"d3","x":1.858,"y":-0.016},{"k":"f","x":4.965,"y":-0.064}],
"box":[{"p":"b","x":1.647,"x2":2.074,"y":0.53,"y2":1.07},{"p":"d","x":2.496,"x2":3.1,"y":0.526,"y2":1.08},{"p":"f","x":5.776,"x2":7.24,"y":0.521,"y2":1.078}]
},
"spacing":30,
"hconcat":[
{"vconcat":[
{"width":468,"height":332,"view":{"stroke":"#444","strokeWidth":1},
"encoding":{"x":{"field":"x","type":"quantitative","scale":{"domain":[0,2],"nice":false,"zero":false},"axis":{"title":"Fly height (nm)","values":[0,0.2,0.4,0.6,0.8,1,1.2,1.4,1.6,1.8,2],"format":"~g","labelExpr":"replace(datum.label,'−','-')","labelFlush":false,"labelOverlap":false,"grid":false,"domain":false,"tickSize":-5,"tickColor":"#333","labelPadding":5,"labelFontSize":13.5,"labelColor":"#000","titleFontSize":18,"titleColor":"#000","titleY":29,"titleBaseline":"alphabetic"}},
"y":{"field":"y","type":"quantitative","scale":{"domain":[-15,5],"nice":false,"zero":false},"axis":{"title":"Potential Energy","values":[-15,-10,-5,0,5],"format":"~g","labelExpr":"replace(datum.label,'−','-')","labelOverlap":false,"grid":false,"domain":false,"tickSize":-5,"tickColor":"#333","labelPadding":8,"labelFontSize":13.5,"labelColor":"#000","titleFontSize":18,"titleColor":"#000","titleX":-26,"titleBaseline":"alphabetic"}}},
"layer":[
{"data":{"name":"a"},"mark":{"type":"line","color":"#000","strokeWidth":2.6,"interpolate":"monotone","clip":true}},
{"data":{"name":"arr"},"transform":[{"filter":"datum.p=='a'"}],"mark":{"type":"rule","color":"#000","strokeWidth":2.2,"strokeDash":[2,2]},"encoding":{"x2":{"field":"x2"},"y2":{"field":"y2"}}},
{"data":{"name":"head"},"transform":[{"filter":"datum.k=='a'"}],"mark":{"type":"point","shape":"triangle","angle":271,"filled":true,"color":"#000","size":50,"opacity":1}},
{"data":{"name":"txt"},"transform":[{"filter":"datum.p=='a'"}],"mark":{"type":"text","align":"left","baseline":"middle","fontSize":23,"fontWeight":"bold","color":"#000"},"encoding":{"text":{"field":"t"}}},
{"data":{"name":"lab"},"transform":[{"filter":"datum.p=='a'"}],"mark":{"type":"text","align":"center","baseline":"middle","font":"Liberation Serif","fontSize":34,"color":"#000"},"encoding":{"text":{"field":"t"}}},
{"data":{"name":"exp"},"transform":[{"filter":"datum.p=='a'"}],"mark":{"type":"text","align":"left","baseline":"alphabetic","fontSize":13.5,"color":"#000"},"encoding":{"text":{"field":"t"}}},
{"data":{"name":"sup"},"transform":[{"filter":"datum.p=='a'"}],"mark":{"type":"text","align":"left","baseline":"alphabetic","fontSize":9.5,"color":"#000"},"encoding":{"text":{"field":"t"}}}
]},
{"width":467,"height":331,"view":{"stroke":"#444","strokeWidth":1},
"encoding":{"x":{"field":"x","type":"quantitative","scale":{"domain":[0,3],"nice":false,"zero":false},"axis":{"title":"Fly height (nm)","values":[0,0.5,1,1.5,2,2.5,3],"format":"~g","labelExpr":"replace(datum.label,'−','-')","labelFlush":false,"labelOverlap":false,"grid":false,"domain":false,"tickSize":-5,"tickColor":"#333","labelPadding":6,"labelFontSize":13.5,"labelColor":"#000","titleFontSize":18,"titleColor":"#000","titleY":28.5,"titleBaseline":"alphabetic"}},
"y":{"field":"y","type":"quantitative","scale":{"domain":[-2.3,-1.7],"nice":false,"zero":false},"axis":{"title":"Potential Energy","values":[-2.3,-2.2,-2.1,-2,-1.9,-1.8,-1.7],"format":"~g","labelExpr":"replace(datum.label,'−','-')","labelOverlap":false,"grid":false,"domain":false,"tickSize":-5,"tickColor":"#333","labelPadding":8,"labelFontSize":13.5,"labelColor":"#000","titleFontSize":18,"titleColor":"#000","titleX":-26,"titleBaseline":"alphabetic"}}},
"layer":[
{"data":{"name":"c"},"mark":{"type":"line","color":"#000","strokeWidth":2.6,"interpolate":"monotone","clip":true}},
{"data":{"name":"arr"},"transform":[{"filter":"datum.p=='c'"}],"mark":{"type":"rule","color":"#000","strokeWidth":2.2,"strokeDash":[2,2]},"encoding":{"x2":{"field":"x2"},"y2":{"field":"y2"}}},
{"data":{"name":"head"},"transform":[{"filter":"datum.k=='c1'"}],"mark":{"type":"point","shape":"triangle","angle":191.8,"filled":true,"color":"#000","size":50,"opacity":1}},
{"data":{"name":"head"},"transform":[{"filter":"datum.k=='c2'"}],"mark":{"type":"point","shape":"triangle","angle":283.3,"filled":true,"color":"#000","size":50,"opacity":1}},
{"data":{"name":"head"},"transform":[{"filter":"datum.k=='c3'"}],"mark":{"type":"point","shape":"triangle","angle":17.5,"filled":true,"color":"#000","size":50,"opacity":1}},
{"data":{"name":"txt"},"transform":[{"filter":"datum.p=='c'"}],"mark":{"type":"text","align":"left","baseline":"middle","fontSize":23,"fontWeight":"bold","color":"#000"},"encoding":{"text":{"field":"t"}}},
{"data":{"name":"lab"},"transform":[{"filter":"datum.p=='c'"}],"mark":{"type":"text","align":"center","baseline":"middle","font":"Liberation Serif","fontSize":34,"color":"#000"},"encoding":{"text":{"field":"t"}}},
{"data":{"name":"exp"},"transform":[{"filter":"datum.p=='c'"}],"mark":{"type":"text","align":"left","baseline":"alphabetic","fontSize":13.5,"color":"#000"},"encoding":{"text":{"field":"t"}}},
{"data":{"name":"sup"},"transform":[{"filter":"datum.p=='c'"}],"mark":{"type":"text","align":"left","baseline":"alphabetic","fontSize":9.5,"color":"#000"},"encoding":{"text":{"field":"t"}}}
]},
{"width":467,"height":331,"view":{"stroke":"#444","strokeWidth":1},
"encoding":{"x":{"field":"x","type":"quantitative","scale":{"domain":[0,9],"nice":false,"zero":false},"axis":{"title":"Fly height (nm)","values":[0,1,2,3,4,5,6,7,8,9],"format":"~g","labelExpr":"replace(datum.label,'−','-')","labelFlush":false,"labelOverlap":false,"grid":false,"domain":false,"tickSize":-5,"tickColor":"#333","labelPadding":6,"labelFontSize":13.5,"labelColor":"#000","titleFontSize":18,"titleColor":"#000","titleY":29.5,"titleBaseline":"alphabetic"}},
"y":{"field":"y","type":"quantitative","scale":{"domain":[-7.5,-3],"nice":false,"zero":false},"axis":{"title":"Potential Energy","values":[-7.5,-7,-6.5,-6,-5.5,-5,-4.5,-4,-3.5,-3],"format":"~g","labelExpr":"replace(datum.label,'−','-')","labelOverlap":false,"grid":false,"domain":false,"tickSize":-5,"tickColor":"#333","labelPadding":8,"labelFontSize":13.5,"labelColor":"#000","titleFontSize":18,"titleColor":"#000","titleX":-26,"titleBaseline":"alphabetic"}}},
"layer":[
{"data":{"name":"e"},"mark":{"type":"line","color":"#000","strokeWidth":2.6,"interpolate":"monotone","clip":true}},
{"data":{"name":"arr"},"transform":[{"filter":"datum.p=='e'"}],"mark":{"type":"rule","color":"#000","strokeWidth":2.2,"strokeDash":[2,2]},"encoding":{"x2":{"field":"x2"},"y2":{"field":"y2"}}},
{"data":{"name":"head"},"transform":[{"filter":"datum.k=='e'"}],"mark":{"type":"point","shape":"triangle","angle":192.8,"filled":true,"color":"#000","size":50,"opacity":1}},
{"data":{"name":"txt"},"transform":[{"filter":"datum.p=='e'"}],"mark":{"type":"text","align":"left","baseline":"middle","fontSize":23,"fontWeight":"bold","color":"#000"},"encoding":{"text":{"field":"t"}}},
{"data":{"name":"lab"},"transform":[{"filter":"datum.p=='e'"}],"mark":{"type":"text","align":"center","baseline":"middle","font":"Liberation Serif","fontSize":34,"color":"#000"},"encoding":{"text":{"field":"t"}}},
{"data":{"name":"exp"},"transform":[{"filter":"datum.p=='e'"}],"mark":{"type":"text","align":"left","baseline":"alphabetic","fontSize":13.5,"color":"#000"},"encoding":{"text":{"field":"t"}}},
{"data":{"name":"sup"},"transform":[{"filter":"datum.p=='e'"}],"mark":{"type":"text","align":"left","baseline":"alphabetic","fontSize":9.5,"color":"#000"},"encoding":{"text":{"field":"t"}}}
]}
],"spacing":161,"bounds":"flush"},
{"vconcat":[
{"width":10,"height":11,"data":{"values":[{}]},"mark":{"type":"point","opacity":0},"view":{"stroke":null}},
{"vconcat":[
{"width":499,"height":323,"view":{"stroke":"#999","strokeWidth":1},
"encoding":{"x":{"field":"x","type":"quantitative","scale":{"domain":[-0.1,2.1],"nice":false,"zero":false},"axis":{"title":"Fly Height (nm)","values":[0,0.2,0.4,0.6,0.8,1,1.2,1.4,1.6,1.8,2],"format":"~g","labelExpr":"replace(datum.label,'−','-')","labelFlush":false,"labelOverlap":false,"grid":true,"gridDash":[1,2],"gridColor":"#888","gridWidth":0.9,"domain":false,"ticks":false,"labelPadding":2,"labelFontSize":9.5,"labelColor":"#222","titleFontSize":14.5,"titleColor":"#111","titleY":24,"titleBaseline":"alphabetic"}},
"y":{"field":"y","type":"quantitative","scale":{"domain":[-1.1,1.1],"nice":false,"zero":false},"axis":{"title":"Velocity ( x 1e-5 m/s)","values":[-1,-0.8,-0.6,-0.4,-0.2,0,0.2,0.4,0.6,0.8,1],"format":"~g","labelExpr":"replace(datum.label,'−','-')","labelOverlap":false,"grid":true,"gridDash":[1,2],"gridColor":"#888","gridWidth":0.9,"domain":false,"ticks":false,"labelPadding":3,"labelFontSize":9.5,"labelColor":"#222","titleFontSize":15,"titleColor":"#111","titleX":-20.5,"titleBaseline":"alphabetic"}}},
"layer":[
{"data":{"name":"b"},"transform":[{"filter":{"field":"c","oneOf":["b1","b2","b3"]}}],"mark":{"type":"line","color":"#3c3cd8","strokeWidth":1.1,"interpolate":"cardinal","clip":true},"encoding":{"detail":{"field":"c"},"order":{"value":null}}},
{"data":{"name":"b"},"transform":[{"filter":"indexof(['b1','b2','b3'],datum.c)<0"}],"mark":{"type":"line","color":"#2a2abf","strokeWidth":1.7,"interpolate":"cardinal","clip":true},"encoding":{"detail":{"field":"c"},"order":{"value":null}}},
{"data":{"name":"box"},"transform":[{"filter":"datum.p=='b'"}],"mark":{"type":"rect","color":"#fff","opacity":1},"encoding":{"x2":{"field":"x2"},"y2":{"field":"y2"}}},
{"data":{"name":"lab"},"transform":[{"filter":"datum.p=='b'"}],"mark":{"type":"text","align":"center","baseline":"middle","font":"Liberation Serif","fontSize":34,"color":"#000"},"encoding":{"text":{"field":"t"}}},
{"data":{"name":"arr"},"transform":[{"filter":"datum.p=='b'"}],"mark":{"type":"rule","color":"#000","strokeWidth":2,"strokeDash":[2,2]},"encoding":{"x2":{"field":"x2"},"y2":{"field":"y2"}}},
{"data":{"name":"head"},"transform":[{"filter":"datum.k=='b'"}],"mark":{"type":"point","shape":"triangle","angle":301,"filled":true,"color":"#000","size":45,"opacity":1}},
{"data":{"name":"txt"},"transform":[{"filter":"datum.p=='b'"}],"mark":{"type":"text","align":"left","baseline":"middle","fontSize":18,"color":"#111"},"encoding":{"text":{"field":"t"}}}
]},
{"width":505,"height":327,"view":{"stroke":"#999","strokeWidth":1},
"encoding":{"x":{"field":"x","type":"quantitative","scale":{"domain":[-0.15,3.108],"nice":false,"zero":false},"axis":{"title":"Fly Height (nm)","values":[0,0.5,1,1.5,2,2.5,3],"format":"~g","labelExpr":"replace(datum.label,'−','-')","labelFlush":false,"labelOverlap":false,"grid":true,"gridDash":[1,2],"gridColor":"#888","gridWidth":0.9,"domain":false,"ticks":false,"labelPadding":2,"labelFontSize":9.5,"labelColor":"#222","titleFontSize":14.5,"titleColor":"#111","titleY":25,"titleBaseline":"alphabetic"}},
"y":{"field":"y","type":"quantitative","scale":{"domain":[-1.1,1.1],"nice":false,"zero":false},"axis":{"title":"Velocity (x 1e-5 m/s)","values":[-1,-0.8,-0.6,-0.4,-0.2,0,0.2,0.4,0.6,0.8,1],"format":"~g","labelExpr":"replace(datum.label,'−','-')","labelOverlap":false,"grid":true,"gridDash":[1,2],"gridColor":"#888","gridWidth":0.9,"domain":false,"ticks":false,"labelPadding":3,"labelFontSize":9.5,"labelColor":"#222","titleFontSize":15,"titleColor":"#111","titleX":-20.5,"titleBaseline":"alphabetic"}}},
"layer":[
{"data":{"name":"d"},"transform":[{"filter":{"field":"c","oneOf":["d1","d2","d3"]}}],"mark":{"type":"line","color":"#3c3cd8","strokeWidth":1.3,"interpolate":"cardinal","clip":true},"encoding":{"detail":{"field":"c"},"order":{"value":null}}},
{"data":{"name":"d"},"transform":[{"filter":"indexof(['d1','d2','d3'],datum.c)<0"}],"mark":{"type":"line","color":"#3030c8","strokeWidth":1.5,"interpolate":"cardinal","clip":true},"encoding":{"detail":{"field":"c"},"order":{"value":null}}},
{"data":{"name":"box"},"transform":[{"filter":"datum.p=='d'"}],"mark":{"type":"rect","color":"#fff","opacity":1},"encoding":{"x2":{"field":"x2"},"y2":{"field":"y2"}}},
{"data":{"name":"lab"},"transform":[{"filter":"datum.p=='d'"}],"mark":{"type":"text","align":"center","baseline":"middle","font":"Liberation Serif","fontSize":34,"color":"#000"},"encoding":{"text":{"field":"t"}}},
{"data":{"name":"arr"},"transform":[{"filter":"datum.p=='d'"}],"mark":{"type":"rule","color":"#000","strokeWidth":2,"strokeDash":[2,2]},"encoding":{"x2":{"field":"x2"},"y2":{"field":"y2"}}},
{"data":{"name":"head"},"transform":[{"filter":"datum.k=='d1'"}],"mark":{"type":"point","shape":"triangle","angle":193.7,"filled":true,"color":"#000","size":45,"opacity":1}},
{"data":{"name":"head"},"transform":[{"filter":"datum.k=='d2'"}],"mark":{"type":"point","shape":"triangle","angle":341.2,"filled":true,"color":"#000","size":45,"opacity":1}},
{"data":{"name":"head"},"transform":[{"filter":"datum.k=='d3'"}],"mark":{"type":"point","shape":"triangle","angle":69.7,"filled":true,"color":"#000","size":45,"opacity":1}},
{"data":{"name":"txt"},"transform":[{"filter":"datum.p=='d'"}],"mark":{"type":"text","align":"left","baseline":"middle","fontSize":18,"color":"#111"},"encoding":{"text":{"field":"t"}}}
]},
{"width":505,"height":325,"view":{"stroke":"#999","strokeWidth":1},
"encoding":{"x":{"field":"x","type":"quantitative","scale":{"domain":[-0.35,7.34],"nice":false,"zero":false},"axis":{"title":"Fly Height (nm)","values":[0,1,2,3,4,5,6,7],"format":"~g","labelExpr":"replace(datum.label,'−','-')","labelFlush":false,"labelOverlap":false,"grid":true,"gridDash":[1,2],"gridColor":"#888","gridWidth":0.9,"domain":false,"ticks":false,"labelPadding":2,"labelFontSize":9.5,"labelColor":"#222","titleFontSize":14.5,"titleColor":"#111","titleY":26,"titleBaseline":"alphabetic"}},
"y":{"field":"y","type":"quantitative","scale":{"domain":[-1.1,1.1],"nice":false,"zero":false},"axis":{"title":"Velocity (x 1e-5 m/s)","values":[-1,-0.8,-0.6,-0.4,-0.2,0,0.2,0.4,0.6,0.8,1],"format":"~g","labelExpr":"replace(datum.label,'−','-')","labelOverlap":false,"grid":true,"gridDash":[1,2],"gridColor":"#888","gridWidth":0.9,"domain":false,"ticks":false,"labelPadding":3,"labelFontSize":9.5,"labelColor":"#222","titleFontSize":15,"titleColor":"#111","titleX":-20.5,"titleBaseline":"alphabetic"}}},
"layer":[
{"data":{"name":"f"},"transform":[{"filter":{"field":"c","oneOf":["fA","fB"]}}],"mark":{"type":"line","color":"#3c3cd8","strokeWidth":1.2,"interpolate":"cardinal","clip":true},"encoding":{"detail":{"field":"c"},"order":{"value":null}}},
{"data":{"name":"f"},"transform":[{"filter":"indexof(['fA','fB'],datum.c)<0"}],"mark":{"type":"line","color":"#2a2abf","strokeWidth":1.9,"interpolate":"cardinal","clip":true},"encoding":{"detail":{"field":"c"},"order":{"value":null}}},
{"data":{"name":"box"},"transform":[{"filter":"datum.p=='f'"}],"mark":{"type":"rect","color":"#fff","opacity":1},"encoding":{"x2":{"field":"x2"},"y2":{"field":"y2"}}},
{"data":{"name":"lab"},"transform":[{"filter":"datum.p=='f'"}],"mark":{"type":"text","align":"center","baseline":"middle","font":"Liberation Serif","fontSize":34,"color":"#000"},"encoding":{"text":{"field":"t"}}},
{"data":{"name":"arr"},"transform":[{"filter":"datum.p=='f'"}],"mark":{"type":"rule","color":"#000","strokeWidth":2,"strokeDash":[2,2]},"encoding":{"x2":{"field":"x2"},"y2":{"field":"y2"}}},
{"data":{"name":"head"},"transform":[{"filter":"datum.k=='f'"}],"mark":{"type":"point","shape":"triangle","angle":14.6,"filled":true,"color":"#000","size":45,"opacity":1}},
{"data":{"name":"txt"},"transform":[{"filter":"datum.p=='f'"}],"mark":{"type":"text","align":"left","baseline":"middle","fontSize":18,"color":"#111"},"encoding":{"text":{"field":"t"}}}
]}
],"spacing":165,"bounds":"flush"}
],"spacing":0}
]
}
